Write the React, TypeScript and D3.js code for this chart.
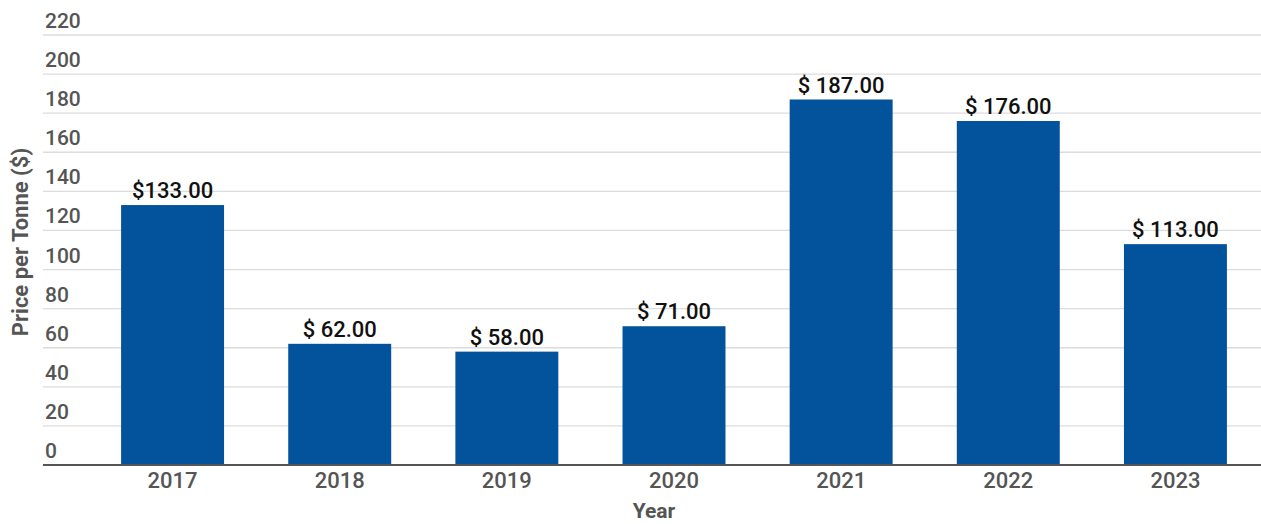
import React from "react";
import * as d3 from "d3";

const years = ["2017", "2018", "2019", "2020", "2021", "2022", "2023"];
const prices = [133, 62, 58, 71, 187, 176, 113];
const valueLabels = ["$133.00", "$ 62.00", "$ 58.00", "$ 71.00", "$ 187.00", "$ 176.00", "$ 113.00"];
const yTicks = [0, 20, 40, 60, 80, 100, 120, 140, 160, 180, 200, 220];
const yTitle = "Price per Tonne ($)";
const xTitle = "Year";

const W = 1261;
const H = 524;
const gridLeft = 43;
const font = "Roboto, 'Open Sans', sans-serif";

export default function App() {
  const x = d3.scaleBand<string>().domain(years).range([89, 1259]).paddingInner(0.384).paddingOuter(0.192);
  const y = d3.scaleLinear().domain([0, 220]).range([465, 35]);

  return (
    <svg width={W} height={H} style={{ position: "absolute", left: 0, top: 0, background: "#fff" }} fontFamily={font}>
      {yTicks.map((t) => (
        <g key={t}>
          {t !== 0 && <line x1={gridLeft} x2={W} y1={y(t)} y2={y(t)} stroke="#dcdcdc" strokeWidth={1.3} />}
          <text x={45} y={y(t) - 7} fontSize={21} fontWeight={500} fill="#555">
            {t}
          </text>
        </g>
      ))}
      {years.map((yr, i) => (
        <g key={yr}>
          <rect x={x(yr)} y={y(prices[i])} width={x.bandwidth()} height={y(0) - y(prices[i])} fill="#03539c" />
          <text x={(x(yr) as number) + x.bandwidth() / 2} y={y(prices[i]) - 7} textAnchor="middle" fontSize={22} fontWeight={500} fill="#111">
            {valueLabels[i]}
          </text>
          <text x={(x(yr) as number) + x.bandwidth() / 2} y={488} textAnchor="middle" fontSize={22} fontWeight={500} fill="#555">
            {yr}
          </text>
        </g>
      ))}
      <line x1={gridLeft} x2={W} y1={y(0)} y2={y(0)} stroke="#555" strokeWidth={2} />
      <text x={654} y={518} textAnchor="middle" fontSize={21} fontWeight={700} fill="#555">
        {xTitle}
      </text>
      <text transform={`translate(28,242) rotate(-90)`} textAnchor="middle" fontSize={22} fontWeight={700} fill="#555">
        {yTitle}
      </text>
    </svg>
  );
}
